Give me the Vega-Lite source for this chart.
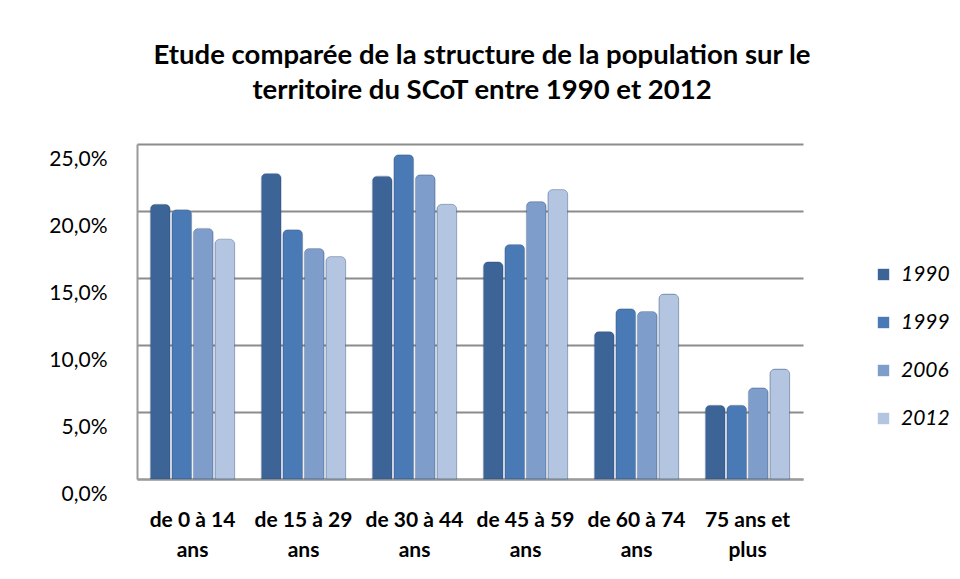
{
  "$schema": "https://vega.github.io/schema/vega-lite/v6.json",
  "autosize": "none",
  "width": 666,
  "height": 335,
  "padding": {"left": 137, "top": 144, "right": 157, "bottom": 100},
  "background": "white",
  "title": {
    "text": ["Etude comparée de la structure de la population sur le", "territoire du SCoT entre 1990 et 2012"],
    "font": "Lato",
    "fontSize": 27.5,
    "fontWeight": "bold",
    "color": "#000000",
    "anchor": "middle",
    "frame": "group",
    "lineHeight": 35,
    "offset": 40,
    "dx": 12
  },
  "data": {
    "values": [
      {"age": "de 0 à 14 ans", "annee": "1990", "part": 0.205},
      {"age": "de 0 à 14 ans", "annee": "1999", "part": 0.201},
      {"age": "de 0 à 14 ans", "annee": "2006", "part": 0.187},
      {"age": "de 0 à 14 ans", "annee": "2012", "part": 0.179},
      {"age": "de 15 à 29 ans", "annee": "1990", "part": 0.228},
      {"age": "de 15 à 29 ans", "annee": "1999", "part": 0.186},
      {"age": "de 15 à 29 ans", "annee": "2006", "part": 0.172},
      {"age": "de 15 à 29 ans", "annee": "2012", "part": 0.166},
      {"age": "de 30 à 44 ans", "annee": "1990", "part": 0.226},
      {"age": "de 30 à 44 ans", "annee": "1999", "part": 0.242},
      {"age": "de 30 à 44 ans", "annee": "2006", "part": 0.227},
      {"age": "de 30 à 44 ans", "annee": "2012", "part": 0.205},
      {"age": "de 45 à 59 ans", "annee": "1990", "part": 0.162},
      {"age": "de 45 à 59 ans", "annee": "1999", "part": 0.175},
      {"age": "de 45 à 59 ans", "annee": "2006", "part": 0.207},
      {"age": "de 45 à 59 ans", "annee": "2012", "part": 0.216},
      {"age": "de 60 à 74 ans", "annee": "1990", "part": 0.110},
      {"age": "de 60 à 74 ans", "annee": "1999", "part": 0.127},
      {"age": "de 60 à 74 ans", "annee": "2006", "part": 0.125},
      {"age": "de 60 à 74 ans", "annee": "2012", "part": 0.138},
      {"age": "75 ans et plus", "annee": "1990", "part": 0.055},
      {"age": "75 ans et plus", "annee": "1999", "part": 0.055},
      {"age": "75 ans et plus", "annee": "2006", "part": 0.068},
      {"age": "75 ans et plus", "annee": "2012", "part": 0.082}
    ]
  },
  "mark": {"type": "bar", "cornerRadiusTopLeft": 5, "cornerRadiusTopRight": 5, "stroke": "#2f4f78", "strokeWidth": 0.6, "strokeOpacity": 0.6},
  "encoding": {
    "x": {
      "field": "age",
      "type": "nominal",
      "sort": null,
      "scale": {"paddingInner": 0.24, "paddingOuter": 0.12},
      "axis": {
        "title": null,
        "labelAngle": 0,
        "labelFont": "Lato",
        "labelFontSize": 21,
        "labelFontWeight": "bold",
        "labelColor": "#000000",
        "labelPadding": 30,
        "labelLineHeight": 30,
        "labelExpr": "datum.label == '75 ans et plus' ? ['75 ans et', 'plus'] : [slice(datum.label, 0, -4), 'ans']",
        "ticks": false,
        "domainColor": "#9a9a9a",
        "domainWidth": 2
      }
    },
    "xOffset": {"field": "annee", "type": "nominal", "scale": {"paddingInner": 0.08}},
    "y": {
      "field": "part",
      "type": "quantitative",
      "scale": {"domain": [0, 0.25], "nice": false},
      "axis": {
        "title": null,
        "values": [0, 0.05, 0.1, 0.15, 0.2, 0.25],
        "labelExpr": "replace(format(datum.value, '.1%'), '.', ',')",
        "labelFont": "Lato",
        "labelFontSize": 21,
        "labelColor": "#000000",
        "labelPadding": 30,
        "labelOffset": 15,
        "ticks": false,
        "grid": true,
        "gridColor": "#8c8c8c",
        "gridWidth": 2,
        "domainColor": "#9a9a9a",
        "domainWidth": 2
      }
    },
    "color": {
      "field": "annee",
      "type": "nominal",
      "scale": {"domain": ["1990", "1999", "2006", "2012"], "range": ["#3c6496", "#4a7ab6", "#7f9dcb", "#b4c5e1"]},
      "legend": {
        "title": null,
        "orient": "none",
        "legendX": 736,
        "legendY": 120,
        "symbolType": "square",
        "symbolSize": 130,
        "symbolStrokeWidth": 0,
        "labelFont": "Lato",
        "labelFontSize": 21,
        "labelFontStyle": "italic",
        "labelColor": "#000000",
        "rowPadding": 26,
        "labelOffset": 7
      }
    }
  },
  "config": {"view": {"stroke": null}}
}
